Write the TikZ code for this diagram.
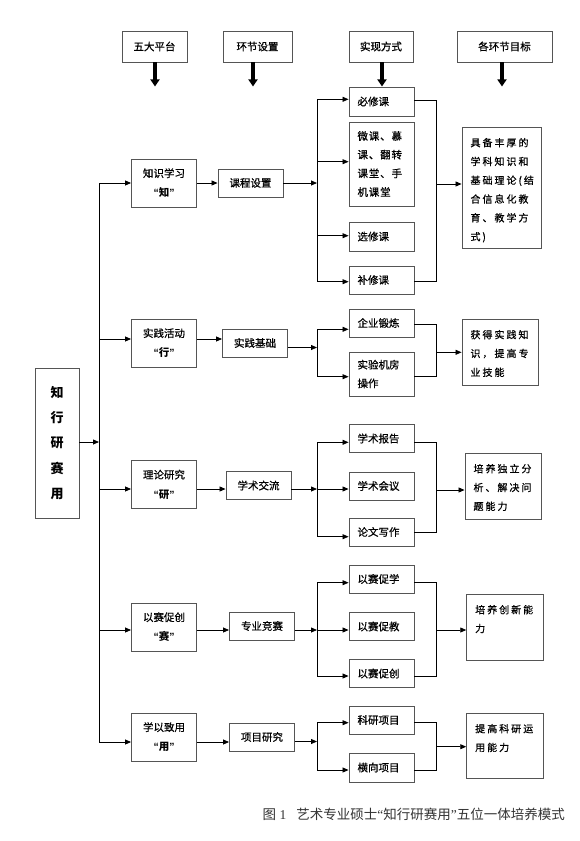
\documentclass[tikz,border=0pt]{standalone}
\usepackage{fontspec}
\setmainfont{Noto Sans CJK SC}[UprightFeatures={FakeBold=0.6}]
\newfontfamily\lib{Liberation Sans}
\newfontfamily\libserif{Liberation Serif}
\newfontfamily\capfont{Noto Sans CJK SC}
\newfontfamily\cjkls{Noto Sans CJK SC}[LetterSpace=20,FakeBold=0.6]
\newfontfamily\cjklsa{Noto Sans CJK SC}[LetterSpace=8,FakeBold=0.6]
\usetikzlibrary{arrows.meta}
\definecolor{boxgray}{HTML}{555555}
\definecolor{capgray}{HTML}{333333}
\newcommand{\qtmark}[1]{{\bfseries{\lib “}#1{\lib ”}}}
\newcommand{\goaltext}[3]{\parbox[c][#2][t]{#1}{\vspace*{11pt}\cjkls\fontsize{10}{18.8}\selectfont #3}}
\begin{document}
\begin{tikzpicture}[x=1pt,y=-1pt,
  box/.style={draw=boxgray, line width=0.9pt, inner sep=0pt, font=\fontsize{10.5}{19.5}\selectfont, align=center},
  hbox/.style={box, minimum height=31pt},
  pbox/.style={box, minimum width=65pt, minimum height=48pt},
  sbox/.style={box, minimum width=65pt, minimum height=28pt},
  ibox/.style={box, minimum width=65pt, inner xsep=8.5pt, text width=48pt, align=left, font=\fontsize{10.5}{18.7}\selectfont},
  gbox/.style={draw=boxgray, line width=0.9pt, inner xsep=8.5pt, inner ysep=0pt},
  ln/.style={line width=0.8pt, black},
  arr/.style={ln, -{Triangle[length=6pt,width=5pt]}},
  harr/.style={line width=3.5pt, black, -{Triangle[length=7pt,width=9pt]}}
]
\useasboundingbox (0,0) rectangle (579,841);
\fill[white] (0,0) rectangle (579,841);

% headers
\node[hbox, minimum width=65pt] (h1) at (154.5,46.5) {五大平台};
\node[hbox, minimum width=69pt] (h2) at (257.5,46.5) {环节设置};
\node[hbox, minimum width=64pt] (h3) at (381,46.5) {实现方式};
\node[hbox, minimum width=95pt] (h4) at (504.5,46.5) {各环节目标};
\draw[harr] ([xshift=0.5pt]h1.south) -- ++(0,24);
\draw[harr] ([xshift=-4.5pt]h2.south) -- ++(0,24);
\draw[harr] ([xshift=1pt]h3.south) -- ++(0,24);
\draw[harr] ([xshift=-2.5pt]h4.south) -- ++(0,24);

% main box
\node[box, minimum width=44pt, minimum height=150pt, font=\fontsize{13}{25.4}\selectfont\bfseries] (M) at (57,443) {知\\行\\研\\赛\\用};

% trunk
\coordinate (t1) at (99,183);
\coordinate (t2) at (99,339);
\coordinate (tm) at (99,442);
\coordinate (t3) at (99,489);
\coordinate (t4) at (99,630);
\coordinate (t5) at (99,742);
\draw[ln] (t1) -- (t5);
\draw[arr] (M.east |- tm) -- (tm);

% platforms
\node[pbox] (P1) at (164,183) {知识学习\\\qtmark{知}};
\node[pbox] (P2) at (164,343) {实践活动\\\qtmark{行}};
\node[pbox] (P3) at (164,484.5) {理论研究\\\qtmark{研}};
\node[pbox] (P4) at (164,627) {以赛促创\\\qtmark{赛}};
\node[pbox] (P5) at (164,737) {学以致用\\\qtmark{用}};
\draw[arr] (t1) -- (t1 -| P1.west);
\draw[arr] (t2) -- (t2 -| P2.west);
\draw[arr] (t3) -- (t3 -| P3.west);
\draw[arr] (t4) -- (t4 -| P4.west);
\draw[arr] (t5) -- (t5 -| P5.west);

% settings
\node[sbox] (S1) at (250.5,183) {课程设置};
\node[sbox] (S2) at (255,343) {实践基础};
\node[sbox] (S3) at (258.5,485.5) {学术交流};
\node[sbox] (S4) at (262,626) {专业竞赛};
\node[sbox] (S5) at (262,737) {项目研究};
\draw[arr] (P1.east |- t1) -- (S1.west |- t1);
\draw[arr] (P2.east |- t2) -- (S2.west |- t2);
\draw[arr] (P3.east |- t3) -- (S3.west |- t3);
\draw[arr] (P4.east |- t4) -- (S4.west |- t4);
\draw[arr] (P5.east |- t5) -- (S5.west |- t5);

% branch points
\coordinate (u1) at (317,183);
\coordinate (u2) at (317,347.5);
\coordinate (u3) at (317,489);
\coordinate (u4) at (317,630);
\coordinate (u5) at (317,741.5);
\draw[arr] (S1.east |- u1) -- (u1);
\draw[arr] (S2.east |- u2) -- (u2);
\draw[arr] (S3.east |- u3) -- (u3);
\draw[arr] (S4.east |- u4) -- (u4);
\draw[arr] (S5.east |- u5) -- (u5);

% items row 1
\node[ibox, minimum height=29pt] (a1) at (381.5,101.5) {必修课};
\node[ibox, minimum height=84pt] (a2) at (381.5,164) {\cjklsa 微课、慕\\课、翻转\\课堂、手\\机课堂};
\node[ibox, minimum height=29pt] (a3) at (381.5,236.5) {选修课};
\node[ibox, minimum height=28pt] (a4) at (381.5,280) {补修课};
% row 2
\node[ibox, minimum height=28pt] (b1) at (381.5,323) {企业锻炼};
\node[ibox, minimum height=44pt] (b2) at (381.5,374) {实验机房\\操作};
% row 3
\node[ibox, minimum height=28pt] (c1) at (381.5,438.5) {学术报告};
\node[ibox, minimum height=28pt] (c2) at (381.5,486) {学术会议};
\node[ibox, minimum height=28pt] (c3) at (381.5,532) {论文写作};
% row 4
\node[ibox, minimum height=28pt] (d1) at (381.5,579) {以赛促学};
\node[ibox, minimum height=28pt] (d2) at (381.5,626.5) {以赛促教};
\node[ibox, minimum height=28pt] (d3) at (381.5,673.5) {以赛促创};
% row 5
\node[ibox, minimum height=28pt] (e1) at (381.5,720) {科研项目};
\node[ibox, minimum height=29pt] (e2) at (381.5,767.5) {横向项目};

% branch verticals and arrows
\draw[ln] (317,99.3) -- (317,281.7);
\draw[arr] (317,99.3) -- (a1.west |- 0,99.3);
\draw[arr] (317,161.7) -- (a2.west |- 0,161.7);
\draw[arr] (317,235.7) -- (a3.west |- 0,235.7);
\draw[arr] (317,281.7) -- (a4.west |- 0,281.7);

\draw[ln] (317,329.3) -- (317,376.7);
\draw[arr] (317,329.3) -- (b1.west |- 0,329.3);
\draw[arr] (317,376.7) -- (b2.west |- 0,376.7);

\draw[ln] (317,442.3) -- (317,536.7);
\draw[arr] (317,442.3) -- (c1.west |- 0,442.3);
\draw[arr] (317,489) -- (c2.west |- 0,489);
\draw[arr] (317,536.7) -- (c3.west |- 0,536.7);

\draw[ln] (317,582.7) -- (317,676);
\draw[arr] (317,582.7) -- (d1.west |- 0,582.7);
\draw[arr] (317,630) -- (d2.west |- 0,630);
\draw[arr] (317,676) -- (d3.west |- 0,676);

\draw[ln] (317,722.7) -- (317,770);
\draw[arr] (317,722.7) -- (e1.west |- 0,722.7);
\draw[arr] (317,770) -- (e2.west |- 0,770);

% goals
\node[gbox] (G1) at (501.5,187.5) {\goaltext{62pt}{121pt}{具备丰厚的\\学科知识和\\基础理论(结\\合信息化教\\育、教学方\\式)}};
\node[gbox] (G2) at (500,352) {\goaltext{59pt}{66pt}{获得实践知\\识，提高专\\业技能}};
\node[gbox] (G3) at (503,486) {\goaltext{59pt}{66pt}{培养独立分\\析、解决问\\题能力}};
\node[gbox] (G4) at (505,627) {\goaltext{59.6pt}{66pt}{培养创新能\\力}};
\node[gbox] (G5) at (505,745.5) {\goaltext{59.6pt}{65pt}{提高科研运\\用能力}};

% collectors
\draw[ln] (a1.east |- 0,100.7) -- (436.5,100.7) -- (436.5,281.7) -- (a4.east |- 0,281.7);
\draw[arr] (436.5,184) -- (G1.west |- 0,184);
\draw[ln] (b1.east |- 0,324.3) -- (436.5,324.3) -- (436.5,376) -- (b2.east |- 0,376);
\draw[arr] (436.5,352.3) -- (G2.west |- 0,352.3);
\draw[ln] (c1.east |- 0,442.3) -- (436.5,442.3) -- (436.5,532.7) -- (c3.east |- 0,532.7);
\draw[arr] (436.5,490) -- (G3.west |- 0,490);
\draw[ln] (d1.east |- 0,582.3) -- (436.5,582.3) -- (436.5,676.7) -- (d3.east |- 0,676.7);
\draw[arr] (436.5,630) -- (G4.west |- 0,630);
\draw[ln] (e1.east |- 0,722.7) -- (436.5,722.7) -- (436.5,770) -- (e2.east |- 0,770);
\draw[arr] (436.5,746.7) -- (G5.west |- 0,746.7);

% caption
\node[anchor=east, inner sep=0pt, text=capgray, font=\capfont\fontsize{13.5}{16}\selectfont] (cap) at (565,814) {图{\libserif\ 1}\hspace{10pt}艺术专业硕士{\libserif “}知行研赛用{\libserif ”}五位一体培养模式};
\end{tikzpicture}
\end{document}
